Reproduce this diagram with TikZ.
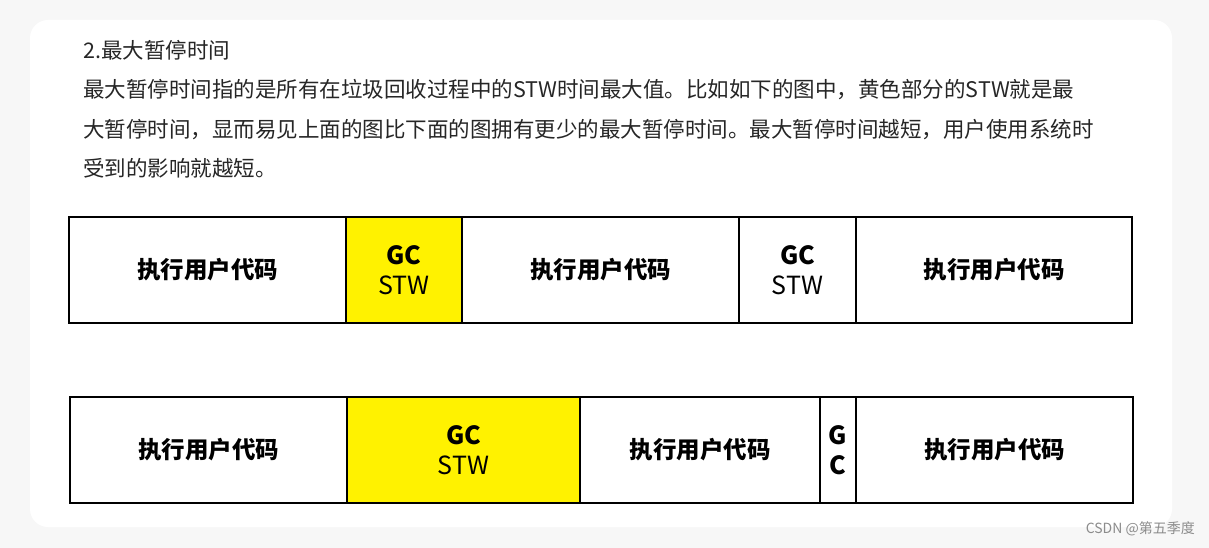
\documentclass[tikz,border=0pt]{standalone}
\usepackage{fontspec}
\setmainfont{Noto Sans CJK SC}
\begin{document}
\begin{tikzpicture}[x=1pt,y=-1pt,
  seg/.style={draw=black,line width=2pt,minimum height=106pt,inner sep=0pt,anchor=north west,font=\fontsize{23.5}{26}\selectfont},
  gc/.style={seg,align=center,font=\fontsize{25}{30}\selectfont},
  txt/.style={anchor=west,inner sep=0pt,font=\fontsize{21.5}{24}\selectfont,text=black!85}]
\fill[black!3] (0,0) rectangle (1209,548);
\useasboundingbox (0,0) rectangle (1209,548);
\fill[white,rounded corners=18pt] (30,20) rectangle (1172,527);
\node[txt] (t1) at (83,50) {2.最大暂停时间};
\node[txt] (t2) at (83,90) {最大暂停时间指的是所有在垃圾回收过程中的STW时间最大值。比如如下的图中，黄色部分的STW就是最};
\node[txt] (t3) at (83,130) {大暂停时间，显而易见上面的图比下面的图拥有更少的最大暂停时间。最大暂停时间越短，用户使用系统时};
\node[txt] (t4) at (83,168) {受到的影响就越短。};
% row 1
\node[seg,minimum width=277pt] (a1) at (68,216) {\bfseries 执行用户代码};
\node[gc,minimum width=116pt,fill=yellow] (a2) at (345,216) {\bfseries GC\\STW};
\node[seg,minimum width=277pt] (a3) at (461,216) {\bfseries 执行用户代码};
\node[gc,minimum width=117pt] (a4) at (738,216) {\bfseries GC\\STW};
\node[seg,minimum width=276pt] (a5) at (855,216) {\bfseries 执行用户代码};
% row 2
\node[seg,minimum width=277pt] (b1) at (69,396) {\bfseries 执行用户代码};
\node[gc,minimum width=233pt,fill=yellow] (b2) at (346,396) {\bfseries GC\\STW};
\node[seg,minimum width=240pt] (b3) at (579,396) {\bfseries 执行用户代码};
\node[gc,minimum width=36pt] (b4) at (819,396) {\bfseries G\\\bfseries C};
\node[seg,minimum width=277pt] (b5) at (855,396) {\bfseries 执行用户代码};
\node[anchor=east,inner sep=0pt,font=\fontsize{14}{16}\selectfont,text=black!45] (wm) at (1195,529) {CSDN @第五季度};
\end{tikzpicture}
\end{document}
